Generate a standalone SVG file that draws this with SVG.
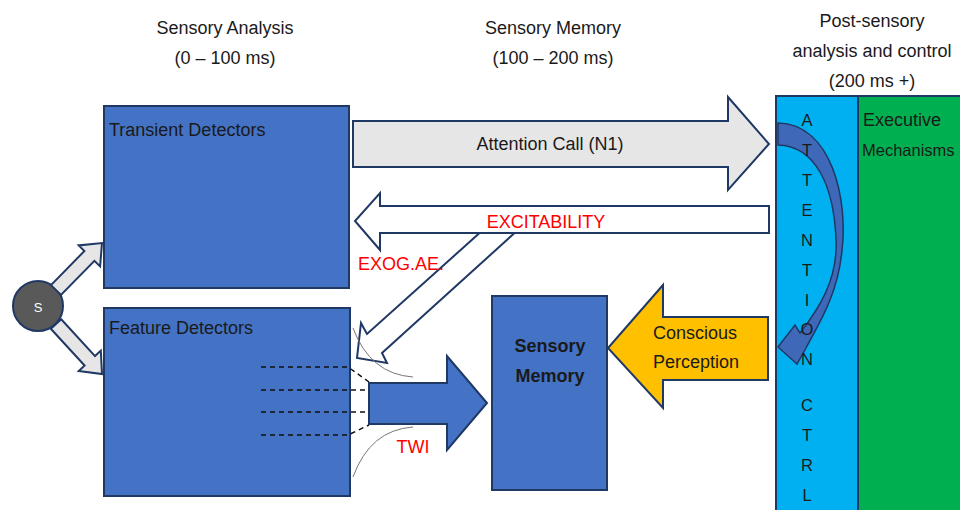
<svg xmlns="http://www.w3.org/2000/svg" width="960" height="510" viewBox="0 0 960 510">
<style>
text{font-family:"Liberation Sans",Arial,sans-serif;font-size:18px;fill:#1a1a1a}
.hdr{text-anchor:middle}
.red{fill:#ff0000}
.box{fill:#4472c4;stroke:#1f3864;stroke-width:2}
.grey{fill:#e7e6e6;stroke:#1f3864;stroke-width:2}
.white{fill:#ffffff;stroke:#1f3864;stroke-width:2}
.vt{text-anchor:middle;font-size:16.5px}
.dash{fill:none;stroke:#111;stroke-width:1.5;stroke-dasharray:5,4}
.thin{fill:none;stroke:#777;stroke-width:1}
</style>
<rect width="960" height="510" fill="#ffffff"/>

<g id="headers">
<text class="hdr" x="225" y="34">Sensory Analysis</text>
<text class="hdr" x="225" y="64">(0 – 100 ms)</text>
<text class="hdr" x="553" y="34">Sensory Memory</text>
<text class="hdr" x="553" y="64">(100 – 200 ms)</text>
<text class="hdr" x="872" y="27">Post-sensory</text>
<text class="hdr" x="872" y="57">analysis and control</text>
<text class="hdr" x="872" y="87">(200 ms +)</text>
</g>

<g id="executive">
<rect x="858" y="96" width="103" height="416" fill="#00b050" stroke="#1f3864" stroke-width="2"/>
<text x="863" y="126">Executive</text>
<text x="862" y="156" style="font-size:16.5px">Mechanisms</text>
</g>

<g id="attention-ctrl">
<rect x="776" y="96" width="82" height="416" fill="#00b0f0" stroke="#1f3864" stroke-width="2"/>
</g>

<g id="transient">
<rect class="box" x="104" y="106" width="245" height="182"/>
<text x="109" y="136">Transient Detectors</text>
</g>

<g id="feature">
<rect class="box" x="104" y="308" width="246" height="188"/>
<text x="109" y="334">Feature Detectors</text>
</g>

<g id="sensory-memory">
<rect class="box" x="492" y="296" width="115" height="194"/>
<text class="hdr" x="550" y="352" style="font-weight:bold">Sensory</text>
<text class="hdr" x="550" y="382" style="font-weight:bold">Memory</text>
</g>

<g id="stimulus">
<circle cx="38" cy="306" r="25" fill="#595959" stroke="#1f3864" stroke-width="2"/>
<text class="hdr" x="38" y="312" style="fill:#ffffff;font-size:13px">S</text>
</g>

<g id="connectors">
<polygon class="grey" points="51,285.1 84.4,251 78.7,245.4 102,243 100.1,266.4 94.4,260.8 61,294.9"/>
<polygon class="grey" points="61.2,319.3 95,356.1 100.8,350.6 102,374 78.8,371 84.6,365.5 50.8,328.7"/>

<polygon class="grey" points="353,121 728,121 728,97 769,144 728,190 728,167 353,167"/>
<text class="hdr" x="550" y="150">Attention Call (N1)</text>

<polygon class="white" points="484,229 367,334 361,323 357,358 387,363 382,353 519,229"/>
<polygon class="white" points="769,206 380,206 380,193 355,221 380,250 380,233 769,233"/>
<text class="hdr red" x="546" y="228">EXCITABILITY</text>
<text class="red" x="358" y="270">EXOG.AE.</text>

<path class="dash" d="M261,367 L348,367 L369,382"/>
<path class="dash" d="M261,390 L369,390"/>
<path class="dash" d="M261,412 L369,412"/>
<path class="dash" d="M261,435 L348,435 L369,425"/>
<path class="thin" d="M353,328 Q370,374 413,377"/>
<path class="thin" d="M413,427 Q370,430 353,477"/>
<polygon points="369,383 447,383 447,356 487,403 447,450 447,424 369,424" fill="#4472c4" stroke="#1f3864" stroke-width="2"/>
<text class="red" x="413" y="453" style="text-anchor:middle">TWI</text>

<polygon points="768,317 663,317 663,285 608,348 663,408 663,380 768,380" fill="#ffc000" stroke="#1f3864" stroke-width="2"/>
<text x="653" y="339">Conscious</text>
<text x="653" y="368">Perception</text>

<path d="M778,123 C832,124 848,200 842,250 C838,295 818,325 806,348 L797,364 L778,347 L795,325 L800,333 C818,310 838,280 836,240 C834,185 815,146 778,145 Z" fill="#4068b8" stroke="#1f3864" stroke-width="1.5"/>
</g>

<g id="attention-ctrl-label">
<text class="vt" x="807" y="126">A</text>
<text class="vt" x="807" y="156">T</text>
<text class="vt" x="807" y="186">T</text>
<text class="vt" x="807" y="216">E</text>
<text class="vt" x="807" y="246">N</text>
<text class="vt" x="807" y="276">T</text>
<text class="vt" x="807" y="306">I</text>
<text class="vt" x="807" y="335">O</text>
<text class="vt" x="807" y="365">N</text>
<text class="vt" x="807" y="411">C</text>
<text class="vt" x="807" y="441">T</text>
<text class="vt" x="807" y="471">R</text>
<text class="vt" x="807" y="501">L</text>
</g>
</svg>
